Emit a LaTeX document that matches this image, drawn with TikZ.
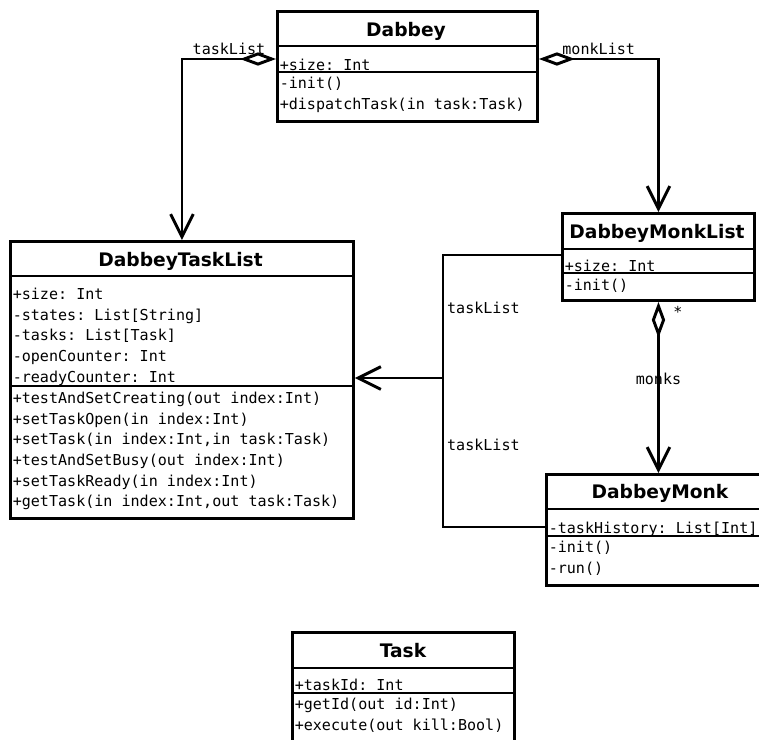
\documentclass[tikz,border=0pt]{standalone}
\usepackage{fontspec}
\setmainfont{DejaVu Sans}
\setmonofont{DejaVu Sans Mono}
\usetikzlibrary{positioning}
\usetikzlibrary{arrows.meta}

\begin{document}
\begin{tikzpicture}[
						x=0.75pt, y=-0.75pt,
						classbox/.style={draw=black, line width=2.2pt, anchor=north west, inner sep=0pt},
						classname/.style={font=\fontsize{14}{16}\selectfont\bfseries, anchor=base, inner sep=0pt},
						members/.style={anchor=base west, align=left, inner sep=0pt, font=\fontsize{11.3}{15.5}\selectfont\ttfamily},
						lbl/.style={font=\fontsize{11.3}{15.5}\selectfont\ttfamily, inner sep=2pt},
						link/.style={line width=2.2pt},
						openarrow/.style={-{Straight Barb[length=17pt,width=17pt,line width=2.2pt]}},
						aggr/.style={link, {Diamond[open,fill=white,length=27pt,width=10pt,line width=2.2pt]}-{Straight Barb[length=17pt,width=17pt,line width=2.2pt]}},
						]
						\useasboundingbox (0,0) rectangle (759,739);
						\clip (0,0) rectangle (759,739);
						%Nodes
						\node[classbox, minimum width=195pt, minimum height=82.5pt]      (dabbey)   at (276,10)  {};
						\node[classbox, minimum width=257.25pt, minimum height=207.75pt] (tasklist) at (9,240)   {};
						\node[classbox, minimum width=144pt, minimum height=65.25pt]     (monklist) at (561,212) {};
						\node[classbox, minimum width=172.5pt, minimum height=83.25pt]   (monk)     at (545,473) {};
						\node[classbox, minimum width=166.5pt, minimum height=90pt]      (task)     at (291,631) {};
						
						\node[classname] (dabbey-name)   at (406,36)    {Dabbey};
						\node[classname] (tasklist-name) at (180.5,266) {DabbeyTaskList};
						\node[classname] (monklist-name) at (657,238)   {DabbeyMonkList};
						\node[classname] (monk-name)     at (660,498.5) {DabbeyMonk};
						\node[classname] (task-name)     at (403,657)   {Task};
						
						%Sections
						\draw[link] (dabbey.west |- 0,46) -- (dabbey.east |- 0,46);
						\draw[link] (dabbey.west |- 0,72) -- (dabbey.east |- 0,72);
						\draw[link] (tasklist.west |- 0,276) -- (tasklist.east |- 0,276);
						\draw[link] (tasklist.west |- 0,386) -- (tasklist.east |- 0,386);
						\draw[link] (monklist.west |- 0,249) -- (monklist.east |- 0,249);
						\draw[link] (monklist.west |- 0,273) -- (monklist.east |- 0,273);
						\draw[link] (monk.west |- 0,509) -- (monk.east |- 0,509);
						\draw[link] (monk.west |- 0,536) -- (monk.east |- 0,536);
						\draw[link] (task.west |- 0,668) -- (task.east |- 0,668);
						\draw[link] (task.west |- 0,693) -- (task.east |- 0,693);
						
						%Members (placed at the baseline of the last line)
						\node[members] (dabbey-attr)   at (279.5,70)    {+size: Int};
						\node[members] (dabbey-ops)    at (279.5,109.5) {-init()\\+dispatchTask(in task:Task)};
						\node[members] (tasklist-attr) at (12.5,382.2)  {+size: Int\\-states: List[String]\\-tasks: List[Task]\\-openCounter: Int\\-readyCounter: Int};
						\node[members] (tasklist-ops)  at (12.5,506.8)  {+testAndSetCreating(out index:Int)\\+setTaskOpen(in index:Int)\\+setTask(in index:Int,in task:Task)\\+testAndSetBusy(out index:Int)\\+setTaskReady(in index:Int)\\+getTask(in index:Int,out task:Task)};
						\node[members] (monklist-attr) at (564.5,271)   {+size: Int};
						\node[members] (monklist-ops)  at (564.5,290)   {-init()};
						\node[members] (monk-attr)     at (548.5,533)   {-taskHistory: List[Int]};
						\node[members] (monk-ops)      at (548.5,573)   {-init()\\-run()};
						\node[members] (task-attr)     at (294.5,690)   {+taskId: Int};
						\node[members] (task-ops)      at (294.5,730.5) {+getId(out id:Int)\\+execute(out kill:Bool)};
						
						\coordinate (join) at (443,378);
						
						%Lines
						\draw[aggr] (dabbey.west |- 0,59) -| node[lbl, pos=0.25, above] {taskList} (tasklist.north);
						\draw[aggr] (dabbey.east |- 0,59) -| node[lbl, pos=0.25, above] {monkList} (monklist.north);
						\draw[aggr] (monklist.south) -- node[lbl, pos=0.06, anchor=west, xshift=8pt] {*} node[lbl, pos=0.45, inner sep=0pt] {monks} (monklist.south |- monk.north);
						\draw[link] (monklist.west |- 0,255) -| node[lbl, pos=0.715, anchor=west] {taskList} (join);
						\draw[link] (monk.west |- 0,527) -| node[lbl, pos=0.775, anchor=west] {taskList} (join);
						\draw[link, openarrow] (join) -- (tasklist.east |- join);
					\end{tikzpicture}
\end{document}
